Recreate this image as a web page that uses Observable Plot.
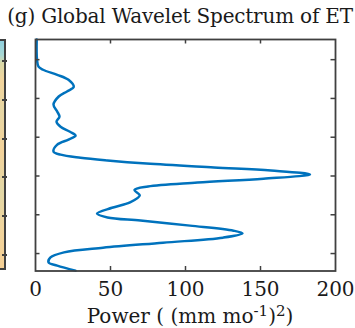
<!DOCTYPE html>
<html>
<head>
<meta charset="utf-8">
<script src="https://cdn.jsdelivr.net/npm/d3@7"></script>
<script src="https://cdn.jsdelivr.net/npm/@observablehq/plot@0.6"></script>
<style>
  body { margin: 0; background: #fff; }
  #wrap { position: relative; width: 355px; height: 328px; overflow: hidden; font-family: "DejaVu Serif", "Liberation Serif", serif; }
  #title { position: absolute; left: 0; top: 1px; width: 360px; text-align: center; font-size: 20px; line-height: 30px; color: #1a1a1a; white-space: nowrap; letter-spacing: -0.2px; }
  #strip { position: absolute; left: 0; top: 39px; width: 6px; height: 231px; border-right: 2px solid #404040; border-top: 2px solid #404040; border-bottom: 2px solid #404040; box-sizing: border-box;
    background: linear-gradient(to bottom, #8fd0de 0px, #a9d8d4 14px, #d9d8a8 22px, #f2d49c 40px, #e6d6a4 70px, #f3d29a 110px, #e2d7a6 150px, #f1d49c 190px, #f5cf94 231px); }
  .tk { position: absolute; left: 2px; width: 5px; height: 2px; background: #404040; }
  #chart { position: absolute; left: 0; top: 30px; }
  #xlabel { position: absolute; left: 0; top: 305px; width: 380px; text-align: center; font-size: 20px; line-height: 22px; color: #1a1a1a; white-space: nowrap; }
  #xlabel sup { font-size: 15px; line-height: 0; vertical-align: 7px; }
</style>
</head>
<body>
<div id="wrap">
  <div id="strip"></div>
  <div id="title">(g) Global Wavelet Spectrum of ET</div>
  <div id="chart"></div>
  <div id="xlabel">Power ( (mm mo<sup>-1</sup>)<sup>2</sup>)</div>
</div>
<script>
// log2 of period (octaves), top of the axis is the shortest period
const octave = [-3.52, -3.0, -2.82, -2.74, -2.61, -2.48, -2.30, -2.18, -2.05, -1.84, -1.66, -1.53, -1.40, -1.27, -1.14, -1.04, -0.94, -0.81, -0.63, -0.55, -0.47, -0.40, -0.32, -0.22, -0.14, -0.04, 0.07, 0.17, 0.27, 0.36, 0.50, 0.68, 0.82, 0.97, 1.07, 1.15, 1.28, 1.41, 1.48, 1.59, 1.72, 1.85, 1.97, 2.10, 2.23, 2.31, 2.44];
const power  = [0.8, 1.0, 2, 5, 14.5, 22, 25.5, 21, 15.5, 12, 14.5, 16, 14, 16.7, 23, 26.7, 22, 14.5, 12, 16.7, 30, 48, 74, 119, 157, 183, 152, 108, 75, 66, 69.5, 63, 51, 41, 48, 70, 103, 132, 138, 125, 85, 45, 19, 10, 8.7, 14.5, 26.7];
const xTicks = [0, 50, 100, 150, 200];
const xTickInner = [50, 100, 150];
const yTicks = [-3, -2, -1, 0, 1, 2];
const yDomain = [-3.52, 2.45];
const xDomain = [0, 200];

const data = octave.map((o, i) => ({o, p: power[i]}));

const W = 355, H = 272, mT = 9, mB = 31.5, mL = 35, mR = 20;
const plotW = W - mL - mR, plotH = H - mT - mB;
const axisColor = "#404040";

const chart = Plot.plot({
  width: W, height: H,
  marginTop: mT, marginBottom: mB, marginLeft: mL, marginRight: mR,
  style: {fontFamily: "'DejaVu Serif', 'Liberation Serif', serif", background: "transparent", overflow: "visible"},
  x: {domain: xDomain, ticks: xTicks},
  y: {domain: yDomain, reverse: true},
  marks: [
    Plot.line(data, {x: "p", y: "o", curve: "catmull-rom", stroke: "#0072BD", strokeWidth: 2.5}),
    Plot.ruleX(xTickInner, {x: d => d, insetTop: plotH - 4.5, stroke: axisColor, strokeWidth: 1.5}),
    Plot.ruleX(xTickInner, {x: d => d, insetBottom: plotH - 4.5, stroke: axisColor, strokeWidth: 1.5}),
    Plot.ruleY(yTicks, {y: d => d, insetRight: plotW - 4.5, stroke: axisColor, strokeWidth: 1.5}),
    Plot.ruleY(yTicks, {y: d => d, insetLeft: plotW - 4.5, stroke: axisColor, strokeWidth: 1.5}),
    Plot.frame({stroke: axisColor, strokeWidth: 1.8}),
    Plot.axisX(xTicks, {anchor: "bottom", tickSize: 0, tickPadding: 11, fontSize: 20, fill: "#1a1a1a", label: null}),
    Plot.axisY({ticks: [], label: null})
  ]
});
document.getElementById("chart").appendChild(chart);

// tick marks of the neighbouring panel edge
const strip = document.getElementById("strip");
[59, 98, 137, 175, 214, 253].forEach(y => {
  const t = document.createElement("div");
  t.className = "tk";
  t.style.top = (y - 39 - 1) + "px";
  strip.appendChild(t);
});
</script>
</body>
</html>
